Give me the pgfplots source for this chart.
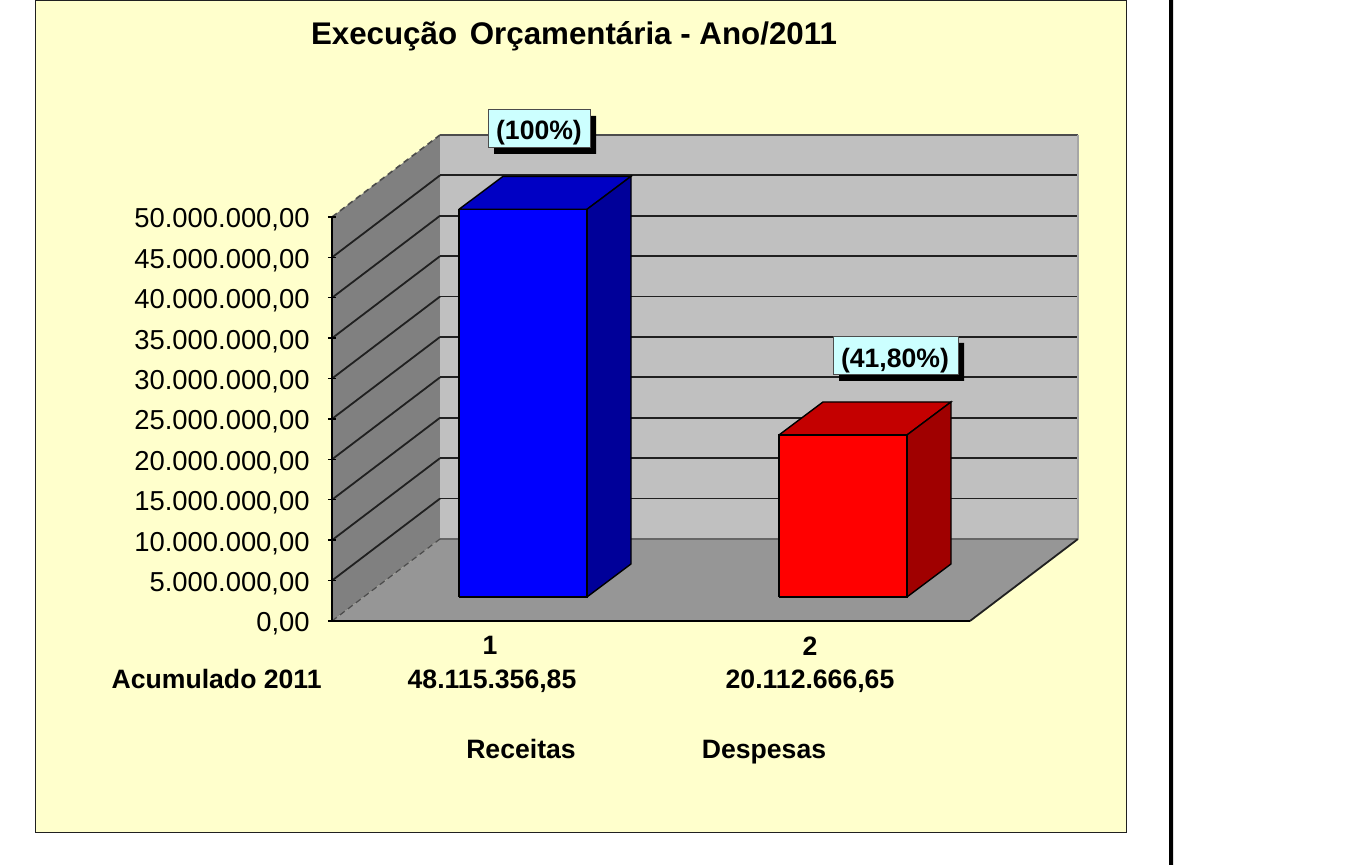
\documentclass[border=0pt]{standalone}
\usepackage{fontspec}
\setmainfont{Liberation Sans}
\usepackage{pgfplots}
\pgfplotsset{compat=1.18}
\definecolor{bgc}{HTML}{FFFFCC}
\definecolor{wallc}{HTML}{C0C0C0}
\definecolor{floorc}{HTML}{969696}
\definecolor{sidec}{HTML}{808080}
\definecolor{boxc}{HTML}{CCFFFF}
\definecolor{bluetop}{HTML}{0000C4}
\definecolor{blueside}{HTML}{000099}
\definecolor{redtop}{HTML}{C40000}
\definecolor{redside}{HTML}{A00000}
\definecolor{edgec}{HTML}{202020}
\newcommand{\lab}{\fontsize{13.7}{15}\selectfont}
\newcommand{\blab}{\fontsize{13.3}{15}\selectfont\bfseries}
\begin{document}
\begin{tikzpicture}
\begin{axis}[
  scale only axis, width=319pt, height=202pt,
  xmin=332, xmax=970, ymin=0, ymax=50,
  clip=false, axis on top=true,
  axis x line=bottom, axis y line=left,
  axis line style={-, draw=black, line width=0.8pt},
  xtick={490,810}, xticklabels={1,2},
  x tick style={draw=none},
  xticklabel style={font=\blab, inner sep=0pt, yshift=-5.6pt, anchor=north},
  ytick={0,5,10,15,20,25,30,35,40,45,50},
  yticklabels={{0,00},{5.000.000,00},{10.000.000,00},{15.000.000,00},{20.000.000,00},{25.000.000,00},{30.000.000,00},{35.000.000,00},{40.000.000,00},{45.000.000,00},{50.000.000,00}},
  yticklabel style={font=\lab, inner sep=0pt, anchor=east, xshift=-9pt, yshift=-1.6pt},
  y tick style={draw=black, line width=0.7pt},
  major tick length=4pt,
]
% page and chart area
\addplot[draw=none, fill=white] coordinates {(0,-30.198) (1372,-30.198) (1372,76.856) (0,76.856) (0,-30.198)};
\addplot[fill=bgc, draw=edgec, line width=0.45pt] coordinates {(35.5,-26.114) (1126,-26.114) (1126,76.78) (35.5,76.78) (35.5,-26.114)};
\addplot[draw=none, fill=black] coordinates {(1169,-30.198) (1173,-30.198) (1173,76.856) (1169,76.856) (1169,-30.198)};
% back wall, side wall, floor
\addplot[fill=wallc, draw=none] coordinates {(440,10.149) (1078,10.149) (1078,60.149) (440,60.149) (440,10.149)};
\addplot[fill=sidec, draw=none] coordinates {(332,0) (440,10.149) (440,60.149) (332,50) (332,0)};
\addplot[fill=floorc, draw=none] coordinates {(332,0) (970,0) (1078,10.149) (440,10.149) (332,0)};
% grid on back wall
\addplot[edgec, line width=0.9pt] coordinates {(440,15.149) (1078,15.149)};
\addplot[edgec, line width=0.9pt] coordinates {(440,20.149) (1078,20.149)};
\addplot[edgec, line width=0.9pt] coordinates {(440,25.149) (1078,25.149)};
\addplot[edgec, line width=0.9pt] coordinates {(440,30.149) (1078,30.149)};
\addplot[edgec, line width=0.9pt] coordinates {(440,35.149) (1078,35.149)};
\addplot[edgec, line width=0.9pt] coordinates {(440,40.149) (1078,40.149)};
\addplot[edgec, line width=0.9pt] coordinates {(440,45.149) (1078,45.149)};
\addplot[edgec, line width=0.9pt] coordinates {(440,50.149) (1078,50.149)};
\addplot[edgec, line width=0.9pt] coordinates {(440,55.149) (1078,55.149)};
\addplot[black!70, line width=0.9pt] coordinates {(440,60.149) (1078,60.149)};
\addplot[black!60, line width=0.9pt] coordinates {(440,10.149) (1078,10.149)};
\addplot[black!35, line width=0.6pt] coordinates {(1078,10.149) (1078,60.149)};
% grid on side wall
\addplot[edgec, line width=0.9pt] coordinates {(332,5) (440,15.149)};
\addplot[edgec, line width=0.9pt] coordinates {(332,10) (440,20.149)};
\addplot[edgec, line width=0.9pt] coordinates {(332,15) (440,25.149)};
\addplot[edgec, line width=0.9pt] coordinates {(332,20) (440,30.149)};
\addplot[edgec, line width=0.9pt] coordinates {(332,25) (440,35.149)};
\addplot[edgec, line width=0.9pt] coordinates {(332,30) (440,40.149)};
\addplot[edgec, line width=0.9pt] coordinates {(332,35) (440,45.149)};
\addplot[edgec, line width=0.9pt] coordinates {(332,40) (440,50.149)};
\addplot[edgec, line width=0.9pt] coordinates {(332,45) (440,55.149)};
\addplot[black!70, densely dashed, line width=0.8pt] coordinates {(332,50) (440,60.149)};
\addplot[black!70, densely dashed, line width=0.6pt] coordinates {(332,0) (440,10.149)};
\addplot[edgec, line width=0.9pt] coordinates {(970,0) (1078,10.149)};
% bar 1 : Receitas
\addplot[fill=bluetop, draw=black, line width=0.7pt] coordinates {(459,50.95) (587,50.95) (631,55.03) (503,55.03) (459,50.95)};
\addplot[fill=blueside, draw=black, line width=0.7pt] coordinates {(587,2.97) (631,7.054) (631,55.03) (587,50.95) (587,2.97)};
\addplot[fill=blue, draw=black, line width=0.7pt] coordinates {(459,2.97) (587,2.97) (587,50.95) (459,50.95) (459,2.97)};
% bar 2 : Despesas
\addplot[fill=redtop, draw=black, line width=0.7pt] coordinates {(779,23.02) (907,23.02) (951,27.104) (823,27.104) (779,23.02)};
\addplot[fill=redside, draw=black, line width=0.7pt] coordinates {(907,2.97) (951,7.054) (951,27.104) (907,23.02) (907,2.97)};
\addplot[fill=red, draw=black, line width=0.7pt] coordinates {(779,2.97) (907,2.97) (907,23.02) (779,23.02) (779,2.97)};
% label boxes
\addplot[fill=black, draw=none] coordinates {(494,62.5) (596,62.5) (596,57.797) (494,57.797) (494,62.5)};
\addplot[fill=boxc, draw=black!70, line width=0.5pt] coordinates {(488,63.243) (590,63.243) (590,58.54) (488,58.54) (488,63.243)};
\addplot[fill=black, draw=none] coordinates {(839,34.406) (964,34.406) (964,29.703) (839,29.703) (839,34.406)};
\addplot[fill=boxc, draw=black!70, line width=0.5pt] coordinates {(833,35.149) (958,35.149) (958,30.446) (833,30.446) (833,35.149)};
% texts
\node[font=\fontsize{15.65}{18}\selectfont\bfseries, anchor=base, inner sep=0pt] at (axis cs:574,71.29) {Execução\hspace{2pt} Orçamentária - Ano/2011};
\node[font=\blab, anchor=base, inner sep=0pt] at (axis cs:539,59.53) {(100\%)};
\node[font=\blab, anchor=base, inner sep=0pt] at (axis cs:895,31.31) {(41,80\%)};
\node[font=\blab, anchor=base east, inner sep=0pt] at (axis cs:322,-8.416) {Acumulado 2011};
\node[font=\blab, anchor=base, inner sep=0pt] at (axis cs:492,-8.416) {48.115.356,85};
\node[font=\blab, anchor=base, inner sep=0pt] at (axis cs:810,-8.416) {20.112.666,65};
\node[font=\blab, anchor=base, inner sep=0pt] at (axis cs:521,-17.08) {Receitas};
\node[font=\blab, anchor=base, inner sep=0pt] at (axis cs:764,-17.08) {Despesas};
\end{axis}
\end{tikzpicture}
\end{document}
